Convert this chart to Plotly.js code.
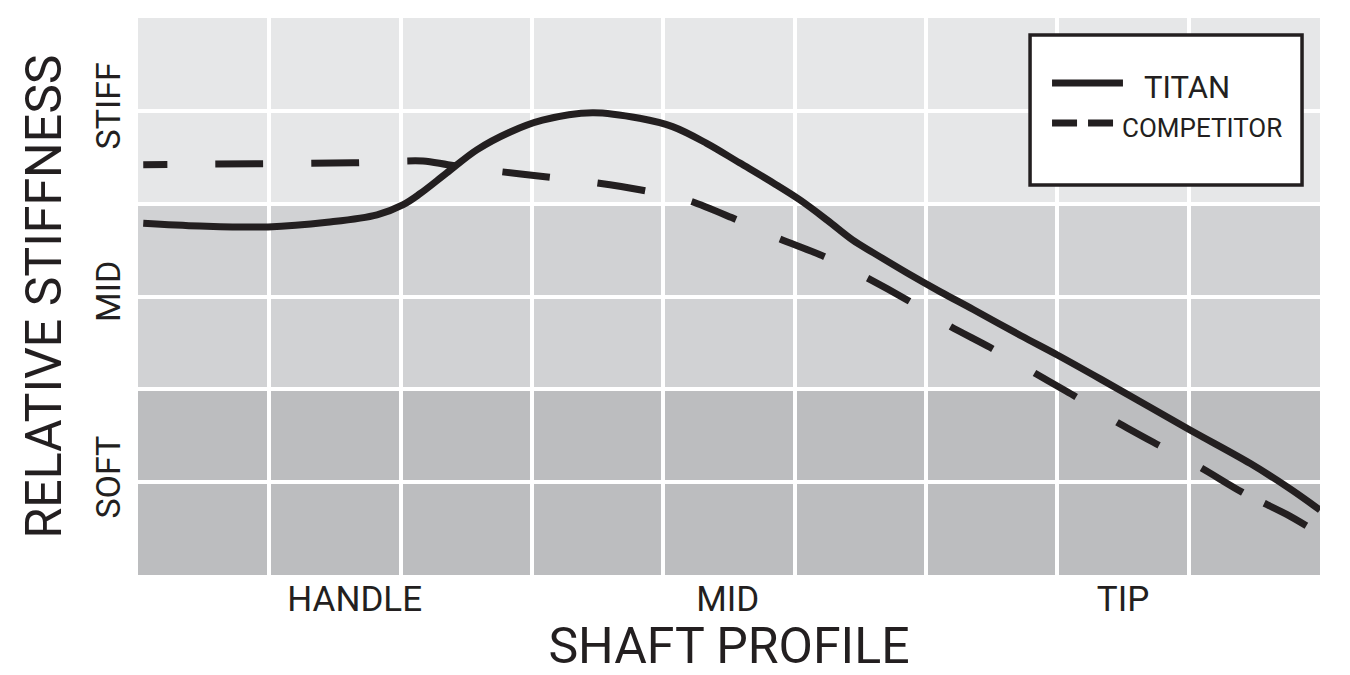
<!DOCTYPE html>
<html>
<head>
<meta charset="utf-8">
<script src="https://cdn.plot.ly/plotly-3.0.1.min.js"></script>
<style>html,body{margin:0;padding:0;background:#fff;}#chart{width:1350px;height:675px;}</style>
</head>
<body>
<div id="chart"></div>
<script>
// ---- data ----
const titanX = [0.04, 0.47, 0.99, 1.44, 1.82, 2.02, 2.15, 2.35, 2.58, 2.83, 3.08, 3.46, 3.82, 4.07, 4.33, 4.58, 4.84, 5.04, 5.25, 5.44, 5.60, 5.86, 6.11, 6.36, 6.72, 7.00, 7.33, 8.00, 8.47, 8.77, 9.00];
const titanY = [3.79, 3.76, 3.75, 3.80, 3.88, 3.99, 4.11, 4.33, 4.58, 4.77, 4.90, 4.98, 4.92, 4.83, 4.65, 4.44, 4.22, 4.04, 3.82, 3.61, 3.47, 3.25, 3.05, 2.86, 2.58, 2.37, 2.11, 1.57, 1.20, 0.93, 0.70];
const compX = [0.04, 0.93, 1.64, 2.17, 2.36, 2.73, 3.10, 3.46, 3.82, 4.18, 4.52, 4.87, 5.21, 5.54, 5.86, 6.17, 6.49, 6.82, 7.14, 7.45, 7.77, 8.10, 8.41, 8.75, 8.92];
const compY = [4.42, 4.43, 4.44, 4.46, 4.42, 4.35, 4.29, 4.23, 4.15, 4.04, 3.85, 3.63, 3.44, 3.21, 2.96, 2.69, 2.45, 2.18, 1.92, 1.65, 1.40, 1.15, 0.89, 0.65, 0.51];
const seriesNames = ['TITAN', 'COMPETITOR'];

const xTickVals = [1.65, 4.49, 7.5];
const xTickText = ['HANDLE', 'MID', 'TIP'];
const yTickVals = [1, 3, 5];
const yTickText = ['SOFT', 'MID', 'STIFF'];
const xGridVals = [1, 2, 3, 4, 5, 6, 7, 8];
const yGridVals = [1, 2, 3, 4, 5];
const bandEdges = [0, 2, 4, 6];
const bandColors = ['#bcbdbf', '#d1d2d4', '#e6e7e8'];

// ---- styles ----
const ink = '#231f20';
const font = 'Roboto, "Open Sans", sans-serif';
let dashParts = ['24px'];
for (let i = 0; i < 24; i++) { dashParts.push('48px'); }
const compDash = dashParts.join(',');

const traces = [
  {x: titanX, y: titanY, name: seriesNames[0], type: 'scatter', mode: 'lines',
   line: {color: ink, width: 7, shape: 'spline', smoothing: 1.0}, showlegend: false, hoverinfo: 'skip'},
  {x: compX, y: compY, name: seriesNames[1], type: 'scatter', mode: 'lines',
   line: {color: ink, width: 7, shape: 'spline', smoothing: 0.8, dash: compDash}, showlegend: false, hoverinfo: 'skip'}
];

const shapes = [];
for (let i = 0; i < bandColors.length; i++) {
  shapes.push({type: 'rect', layer: 'below', xref: 'paper', yref: 'y', x0: 0, x1: 1,
    y0: bandEdges[i], y1: bandEdges[i + 1], fillcolor: bandColors[i], line: {width: 0}});
}
// custom legend box and samples
shapes.push({type: 'rect', layer: 'above', xref: 'paper', yref: 'paper',
  x0: 0.7547, x1: 0.9848, y0: 0.700, y1: 0.9695, fillcolor: '#ffffff', line: {color: ink, width: 3.5}});
shapes.push({type: 'line', layer: 'above', xref: 'paper', yref: 'paper',
  x0: 0.7733, x1: 0.8333, y0: 0.8833, y1: 0.8833, line: {color: ink, width: 7}});
shapes.push({type: 'line', layer: 'above', xref: 'paper', yref: 'paper',
  x0: 0.7733, x1: 0.8249, y0: 0.8115, y1: 0.8115, line: {color: ink, width: 7, dash: '25px,11px'}});

const annotations = [
  {xref: 'paper', yref: 'paper', x: 0.8490, y: 0.8761, xanchor: 'left', yanchor: 'middle',
   text: seriesNames[0], showarrow: false, font: {family: font, size: 31, color: ink}},
  {xref: 'paper', yref: 'paper', x: 0.8312, y: 0.8025, xanchor: 'left', yanchor: 'middle',
   text: seriesNames[1], showarrow: false, font: {family: font, size: 26, color: ink}}
];

const layout = {
  width: 1350, height: 675,
  margin: {l: 138, r: 30, t: 18, b: 100},
  paper_bgcolor: '#ffffff',
  plot_bgcolor: '#ffffff',
  font: {family: font, color: ink},
  showlegend: false,
  xaxis: {
    range: [0, 9], fixedrange: true, zeroline: false, showline: false,
    tickmode: 'array', tickvals: xTickVals, ticktext: xTickText, ticks: '',
    tickfont: {family: font, size: 35, color: ink}, showgrid: false,
    minor: {tickmode: 'array', tickvals: xGridVals, showgrid: true, gridcolor: '#ffffff', gridwidth: 4, ticks: ''},
    title: {text: 'SHAFT PROFILE', font: {family: font, size: 50, color: ink}, standoff: 12}
  },
  yaxis: {
    range: [0, 6], fixedrange: true, zeroline: false, showline: false,
    tickmode: 'array', tickvals: yTickVals, ticktext: yTickText, ticks: '', tickangle: -90,
    tickfont: {family: font, size: 34, color: ink}, showgrid: true, gridcolor: '#ffffff', gridwidth: 4,
    ticklabelstandoff: 10,
    minor: {tickmode: 'array', tickvals: yGridVals, showgrid: true, gridcolor: '#ffffff', gridwidth: 4, ticks: ''},
    title: {text: 'RELATIVE STIFFNESS', font: {family: font, size: 50, color: ink}, standoff: 10}
  },
  shapes: shapes,
  annotations: annotations
};

Plotly.newPlot('chart', traces, layout, {displayModeBar: false, staticPlot: true});
</script>
</body>
</html>
